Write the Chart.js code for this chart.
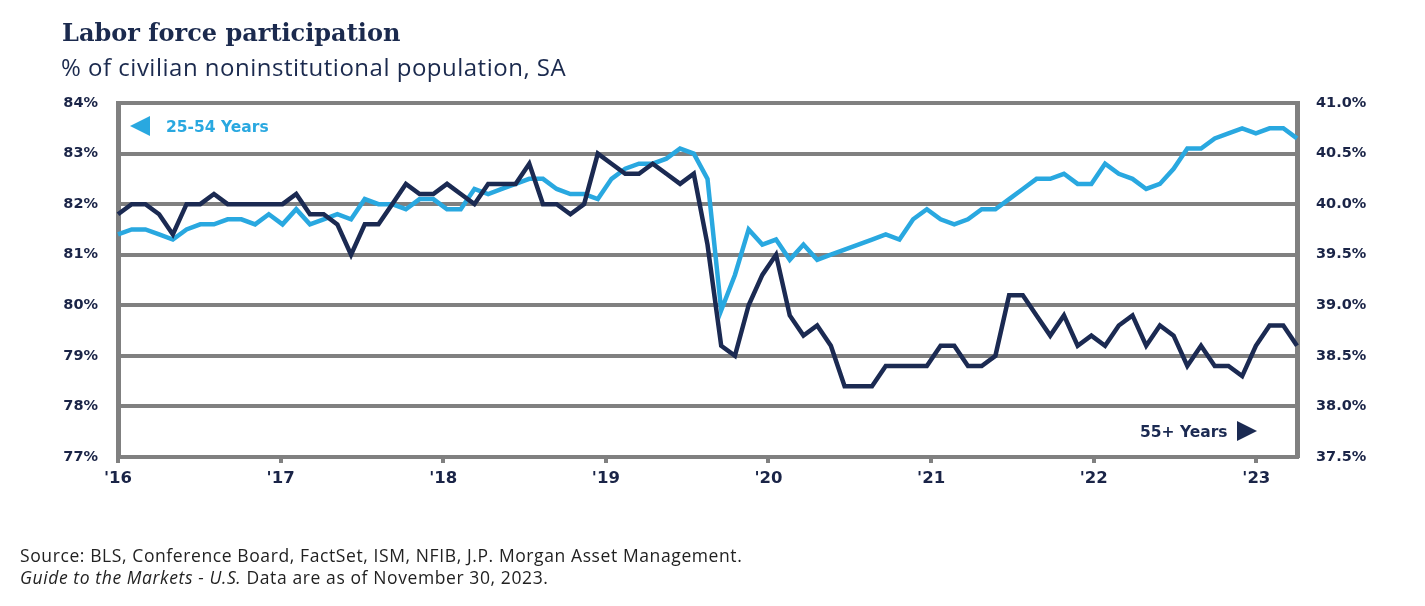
<!DOCTYPE html>
<html><head><meta charset="utf-8">
<script src="https://cdn.jsdelivr.net/npm/chart.js@4.4.0/dist/chart.umd.min.js"></script>
<style>
html,body{margin:0;padding:0;background:#fff;width:1425px;height:606px;overflow:hidden;}
#wrap{position:relative;width:1425px;height:606px;}
canvas{position:absolute;left:0;top:0;}
.t{position:absolute;white-space:nowrap;line-height:1;}
</style></head><body>
<div id="wrap">
<canvas id="c" width="1425" height="606"></canvas>
<div class="t" style="left:62px;top:18px;font:bold 24px 'DejaVu Serif';color:#1b2a4e;">Labor force participation</div>
<div class="t" style="left:61px;top:50px;font:24px 'Open Sans';letter-spacing:0.5px;color:#1b2a4e;">% of civilian noninstitutional population, SA</div>
<div class="t" style="left:166px;top:118px;font:bold 15.5px 'DejaVu Sans';color:#29a8e0;">25-54 Years</div>
<div class="t" style="left:1140px;top:423px;font:bold 15.5px 'DejaVu Sans';color:#1b2a52;">55+ Years</div>
<svg class="t" style="left:0;top:0" width="1425" height="606">
  <polygon points="130,126 150,116 150,136" fill="#29a8e0"/>
  <polygon points="1237,421 1237,441 1257,431" fill="#1b2a52"/>
</svg>
<div class="t" style="left:20px;top:543px;font:17.5px 'Open Sans';letter-spacing:0.6px;color:#222;">Source: BLS, Conference Board, FactSet, ISM, NFIB, J.P. Morgan Asset Management.</div>
<div class="t" style="left:20px;top:565px;font:17.5px 'Open Sans';letter-spacing:0.6px;color:#222;"><i>Guide to the Markets - U.S.</i> Data are as of November 30, 2023.</div>
</div>
<script>
// Monthly data, Aug 2016 - Oct 2023
const startYear = 2016, startMonth = 7; // August (0-based)
// Labor force participation, ages 25-54 (% , left axis)
const age25to54 = [81.4,81.5,81.5,81.4,81.3,81.5,81.6,81.6,81.7,81.7,81.6,81.8,81.6,81.9,81.6,81.7,81.8,81.7,82.1,82.0,
  82.0,81.9,82.1,82.1,81.9,81.9,82.3,82.2,82.3,82.4,82.5,82.5,82.3,82.2,82.2,82.1,82.5,82.7,82.8,82.8,
  82.9,83.1,83.0,82.5,79.9,80.6,81.5,81.2,81.3,80.9,81.2,80.9,81.0,81.1,81.2,81.3,81.4,81.3,81.7,81.9,
  81.7,81.6,81.7,81.9,81.9,82.1,82.3,82.5,82.5,82.6,82.4,82.4,82.8,82.6,82.5,82.3,82.4,82.7,83.1,83.1,
  83.3,83.4,83.5,83.4,83.5,83.5,83.3];
// Labor force participation, ages 55+ (% , right axis)
const age55plus = [39.9,40.0,40.0,39.9,39.7,40.0,40.0,40.1,40.0,40.0,40.0,40.0,40.0,40.1,39.9,39.9,39.8,39.5,39.8,39.8,
  40.0,40.2,40.1,40.1,40.2,40.1,40.0,40.2,40.2,40.2,40.4,40.0,40.0,39.9,40.0,40.5,40.4,40.3,40.3,40.4,
  40.3,40.2,40.3,39.6,38.6,38.5,39.0,39.3,39.5,38.9,38.7,38.8,38.6,38.2,38.2,38.2,38.4,38.4,38.4,38.4,
  38.6,38.6,38.4,38.4,38.5,39.1,39.1,38.9,38.7,38.9,38.6,38.7,38.6,38.8,38.9,38.6,38.8,38.7,38.4,38.6,
  38.4,38.4,38.3,38.6,38.8,38.8,38.6];
const monthNames = ['Jan','Feb','Mar','Apr','May','Jun','Jul','Aug','Sep','Oct','Nov','Dec'];
const months = age25to54.map((_, i) => {
  const m = startMonth + i;
  return monthNames[m % 12] + ' ' + (startYear + Math.floor(m / 12));
});
const yearTickLabels = ["'16","'17","'18","'19","'20","'21","'22","'23"];
const yearAxisMin = 2016, yearAxisMax = 2023.25;
const leftTicks = [77, 84], rightTicks = [37.5, 41.0];

const NAVY = '#1b2a52', LIGHT = '#29a8e0', GRID = '#808080', TXT = '#1a2447';
const tickFont = {family: 'DejaVu Sans', weight: 'bold', size: 14.5};
const xTickFont = {family: 'DejaVu Sans', weight: 'bold', size: 16.5};

new Chart(document.getElementById('c'), {
  type: 'line',
  data: {
    labels: months,
    datasets: [
      {label: '55+ Years', data: age55plus, yAxisID: 'yR', xAxisID: 'x', borderColor: NAVY, borderWidth: 4.5, pointRadius: 0, tension: 0, fill: false},
      {label: '25-54 Years', data: age25to54, yAxisID: 'yL', xAxisID: 'x', borderColor: LIGHT, borderWidth: 4.5, pointRadius: 0, tension: 0, fill: false}
    ]
  },
  options: {
    responsive: false, animation: false, devicePixelRatio: 1,
    layout: {padding: {top: 103, bottom: 109, left: 0, right: 0}},
    plugins: {legend: {display: false}, tooltip: {enabled: false}},
    scales: {
      x: {type: 'category', display: false, offset: false},
      xYear: {
        type: 'linear', position: 'bottom', min: yearAxisMin, max: yearAxisMax,
        afterBuildTicks: s => { s.ticks = yearTickLabels.map((_, k) => ({value: yearAxisMin + k})); },
        afterFit: s => { s.height = 40; },
        ticks: {autoSkip: false, maxRotation: 0, padding: 6, color: TXT, font: xTickFont,
          callback: v => yearTickLabels[Math.round(v - yearAxisMin)]},
        grid: {drawOnChartArea: false, drawTicks: true, tickLength: 6, color: GRID, lineWidth: 4},
        border: {display: true, color: GRID, width: 4}
      },
      yL: {
        type: 'linear', position: 'left', min: leftTicks[0], max: leftTicks[1],
        afterFit: s => { s.width = 118; },
        ticks: {stepSize: 1, padding: 20, color: TXT, font: tickFont, callback: v => v + '%'},
        grid: {color: GRID, lineWidth: 4, drawTicks: false},
        border: {display: true, color: GRID, width: 5}
      },
      yR: {
        type: 'linear', position: 'right', min: rightTicks[0], max: rightTicks[1],
        afterFit: s => { s.width = 128; },
        ticks: {stepSize: 0.5, padding: 19, color: TXT, font: tickFont, callback: v => v.toFixed(1) + '%'},
        grid: {drawOnChartArea: false, drawTicks: false},
        border: {display: true, color: GRID, width: 5}
      }
    }
  }
});
</script>
</body></html>
